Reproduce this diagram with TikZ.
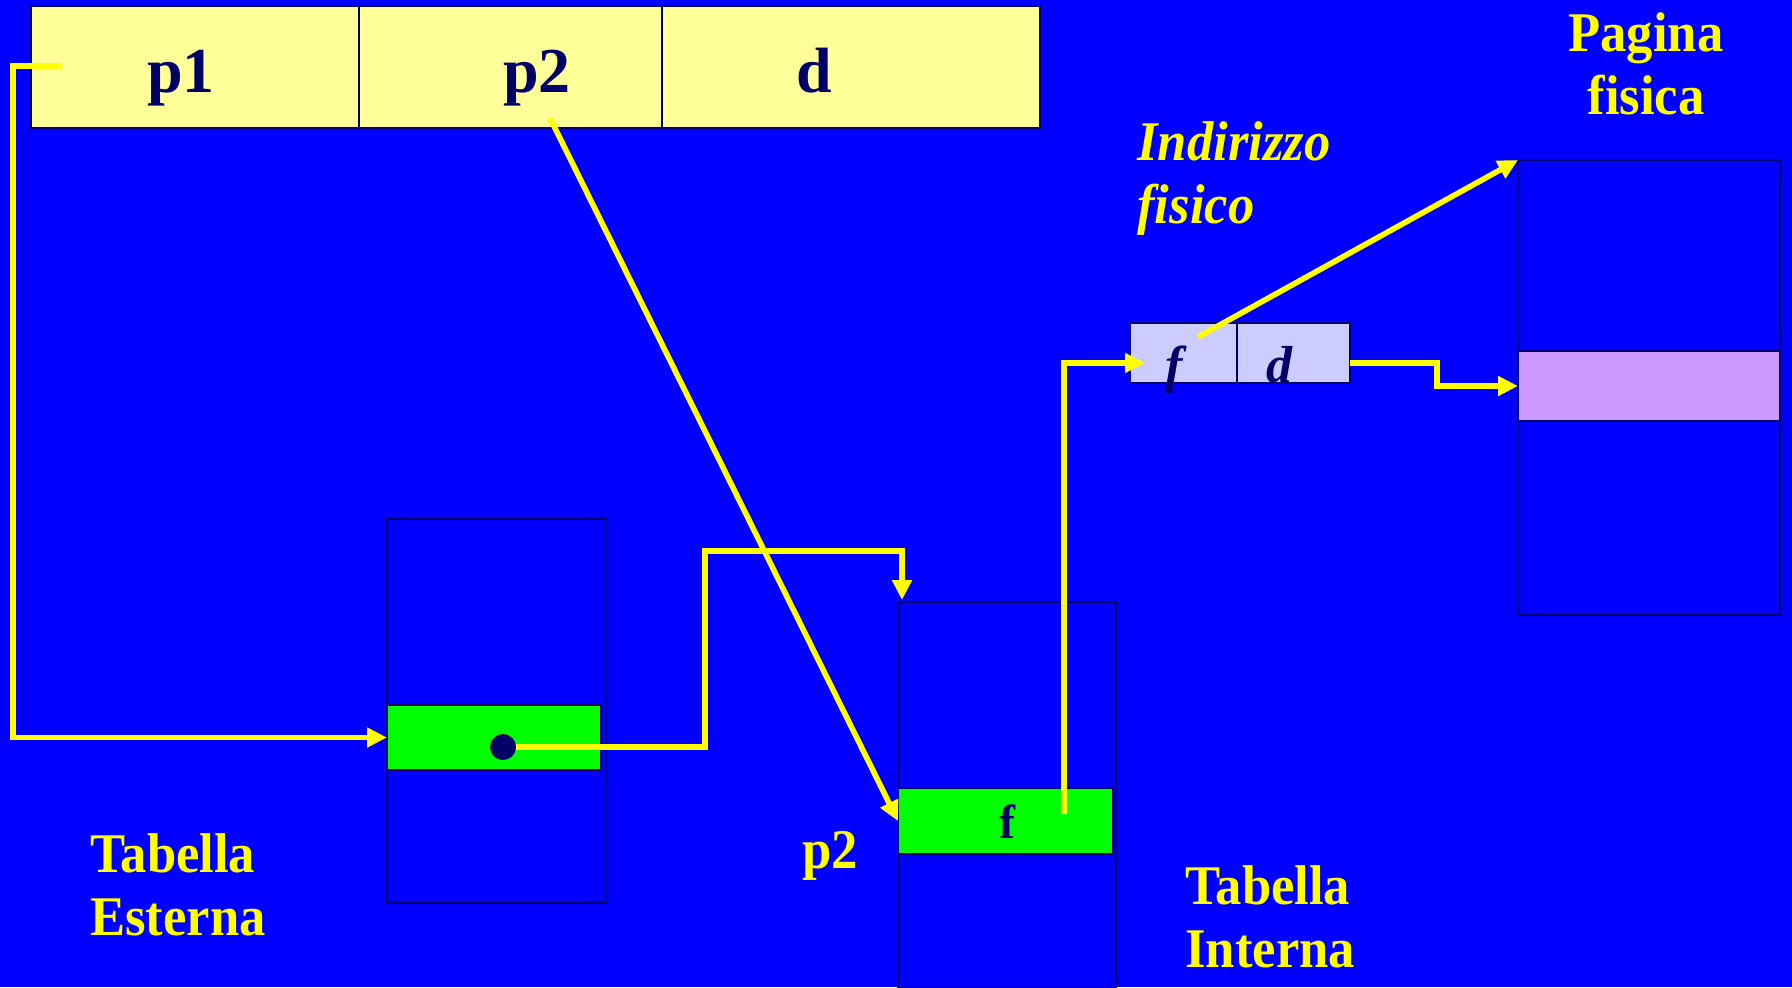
\documentclass[tikz,border=0pt]{standalone}
\usepackage{fontspec}
\setmainfont{Liberation Serif}
\newfontfamily\condfont[FakeStretch=0.94]{Liberation Serif}
\usetikzlibrary{arrows.meta,calc}
\definecolor{bg}{HTML}{0000FF}
\definecolor{yl}{HTML}{FFFF00}
\definecolor{barc}{HTML}{FFFF99}
\definecolor{grn}{HTML}{00FF00}
\definecolor{navy}{HTML}{000066}
\definecolor{lav}{HTML}{CCCCFF}
\definecolor{purp}{HTML}{CC99FF}
\begin{document}
\begin{tikzpicture}[x=0.5pt,y=-0.5pt,
  box/.style={draw=navy, line width=0.6pt, inner sep=0pt, outer sep=0pt, anchor=north west},
  arr/.style={draw=yl, line width=2.8pt, -{Triangle[length=10pt,width=9.5pt]}},
  lbl/.style={text=yl, font=\condfont\fontsize{28}{31.5}\selectfont\bfseries, align=left, inner sep=0pt, anchor=base west},
  ilbl/.style={lbl, font=\condfont\fontsize{28}{31.5}\selectfont\bfseries\itshape},
  cell/.style={text=navy, inner sep=0pt, anchor=base, font=\fontsize{32}{36}\selectfont\bfseries}]
\fill[bg] (0,0) rectangle (1792,987);
\useasboundingbox (0,0) rectangle (1792,987);
% top address bar
\node[box, fill=barc, minimum width=164pt, minimum height=61pt] (cp1) at (31,6) {};
\node[box, fill=barc, minimum width=151.5pt, minimum height=61pt] (cp2) at (359,6) {};
\node[box, fill=barc, minimum width=189pt, minimum height=61pt] (cd) at (662,6) {};
\node[cell] (tp1) at (181,92) {p1};
\node[cell] (tp2) at (537,92) {p2};
\node[cell] (td) at (814,92) {d};
% outer table
\node[box, minimum width=109.5pt, minimum height=192pt] (ext) at (387,519) {};
\node[box, fill=grn, minimum width=107pt, minimum height=32.5pt] (extrow) at (387,705) {};
\node[circle, fill=navy, inner sep=0pt, minimum size=13pt] (dot) at (503,747) {};
% inner table
\node[box, minimum width=109pt, minimum height=193pt] (int) at (898,602) {};
\node[box, fill=grn, minimum width=107.5pt, minimum height=33pt] (introw) at (898,788) {};
\node[cell, font=\fontsize{24}{28}\selectfont\bfseries] (tf) at (1007,838) {f};
% physical address
\node[box, fill=lav, minimum width=53.5pt, minimum height=30pt] (fcell) at (1130,323) {};
\node[box, fill=lav, minimum width=56.5pt, minimum height=30pt] (dcell) at (1237,323) {};
\node[cell, font=\fontsize{26}{30}\selectfont\bfseries\itshape] (tfi) at (1174,382) {f};
\node[cell, font=\fontsize{26}{30}\selectfont\bfseries\itshape] (tdi) at (1279,382) {d};
% physical page
\node[box, minimum width=131pt, minimum height=227.5pt] (page) at (1518,160) {};
\node[box, fill=purp, minimum width=131pt, minimum height=35pt] (pagerow) at (1518,351) {};
% labels (base anchor = baseline of the last line)
\node[lbl, align=center, anchor=base] (lpag) at (1646,114) {Pagina\\fisica};
\node[ilbl] (lind) at (1137,223) {Indirizzo\\fisico};
\node[lbl] (lest) at (90,935) {Tabella\\Esterna};
\node[lbl] (lp2) at (802,868) {p2};
\node[lbl] (lint) at (1185,967) {Tabella\\Interna};
% connectors
\coordinate (p1s) at (61,66);
\coordinate (k1) at (13,66);
\draw[arr] (p1s) -- (k1) |- (extrow.west);
\coordinate (k2) at (705,551);
\coordinate (intin) at (902,600);
\draw[arr] (dot.east) -| (k2) -| (intin);
\coordinate (p2s) at (550,118);
\draw[arr] (p2s) -- (introw.west);
\coordinate (fs) at (1064,814);
\coordinate (fin) at (1145,363);
\draw[arr] (fs) |- (fin);
\coordinate (dout) at (1350,363);
\coordinate (k3) at (1437,363);
\draw[arr] (dout) -- (k3) |- (pagerow.west);
\coordinate (fo) at (1198,337);
\draw[arr] (fo) -- (page.north west);
\end{tikzpicture}
\end{document}
